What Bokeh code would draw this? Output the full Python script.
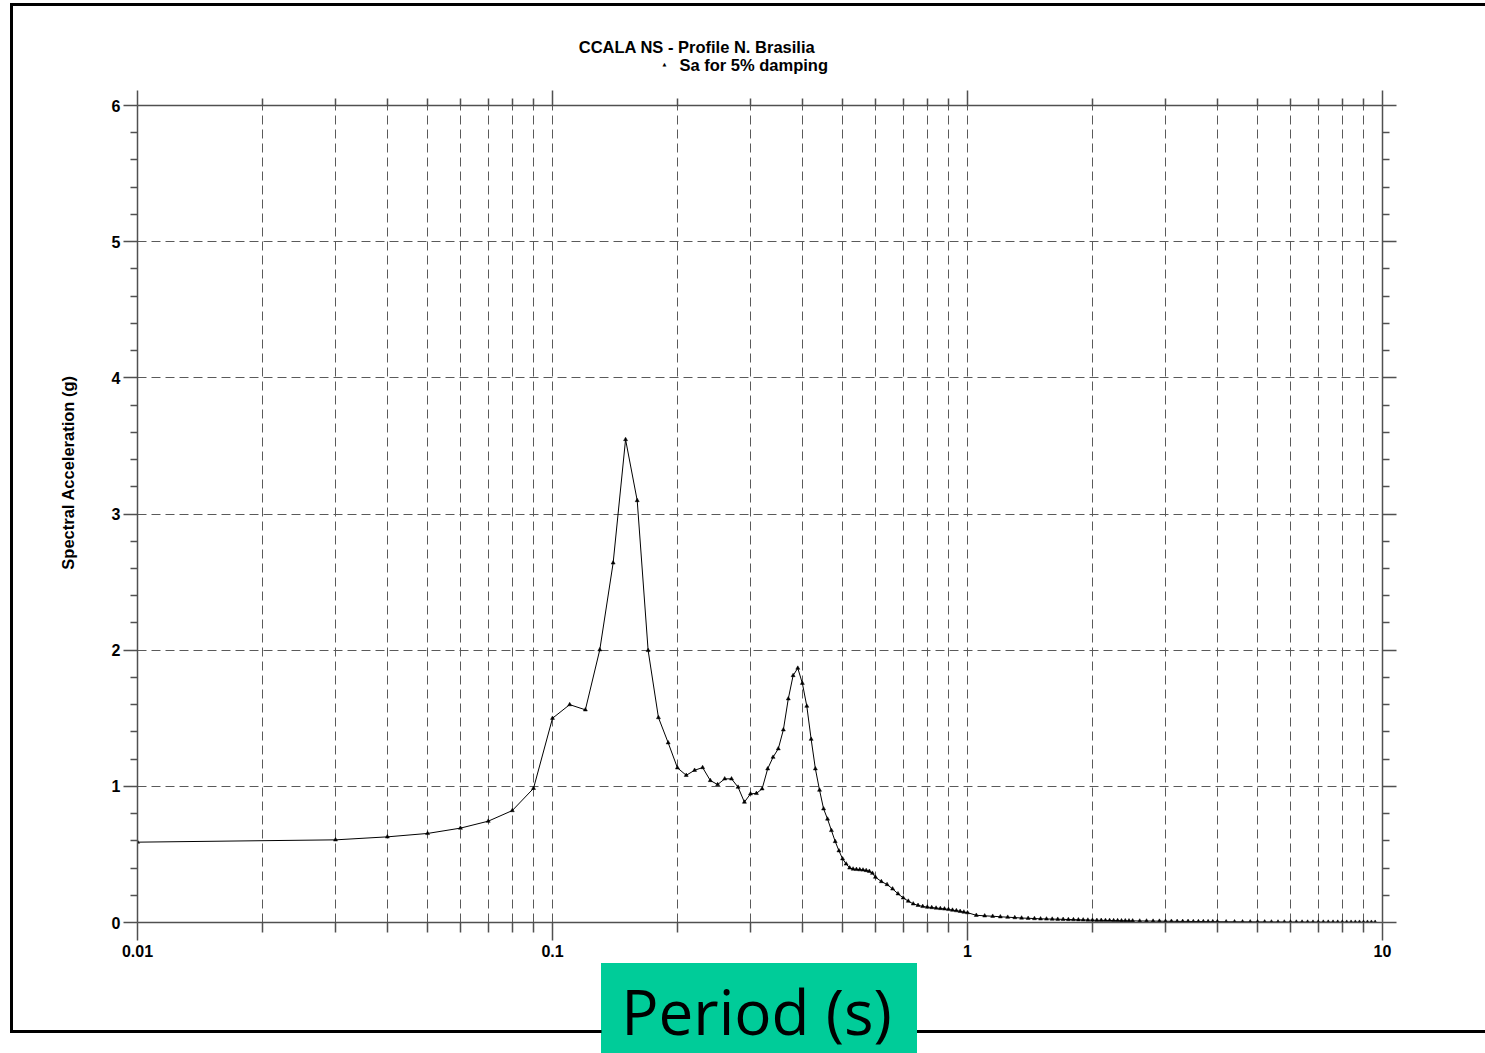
import math

from bokeh.plotting import figure
from bokeh.models import (Range1d, FixedTicker, LogAxis, LinearAxis, Label,
                          ColumnDataSource, BasicTickFormatter,
                          CustomJSTickFormatter, InlineStyleSheet)
from bokeh.embed import file_html
from bokeh.resources import INLINE

# ---- text ----
title_text = "CCALA NS - Profile N. Brasilia"
series_name = "Sa for 5% damping"
series_marker = "\u25b2"
x_title = "Period (s)"
y_title = "Spectral Acceleration (g)"

# ---- response spectrum (period in s, spectral acceleration in g) ----
period_short = [0.01, 0.03, 0.04, 0.05, 0.06, 0.07, 0.08, 0.09]
sa_short = [0.590, 0.607, 0.629, 0.654, 0.693, 0.744, 0.822, 0.985]

period_mid = [0.10, 0.11, 0.12, 0.13, 0.14, 0.15, 0.16, 0.17, 0.18, 0.19,
              0.20, 0.21, 0.22, 0.23, 0.24, 0.25, 0.26, 0.27, 0.28, 0.29,
              0.30, 0.31, 0.32, 0.33, 0.34, 0.35, 0.36, 0.37, 0.38, 0.39,
              0.40, 0.41, 0.42, 0.43, 0.44, 0.45, 0.46, 0.47, 0.48, 0.49,
              0.50, 0.51, 0.52, 0.53, 0.54, 0.55, 0.56, 0.57, 0.58, 0.59]
sa_mid = [1.500, 1.600, 1.562, 2.003, 2.641, 3.547, 3.099, 1.998, 1.505, 1.320,
          1.136, 1.081, 1.118, 1.138, 1.043, 1.013, 1.055, 1.055, 0.994, 0.884,
          0.945, 0.948, 0.982, 1.129, 1.214, 1.276, 1.415, 1.643, 1.814, 1.868,
          1.757, 1.589, 1.346, 1.129, 0.972, 0.835, 0.760, 0.676, 0.595, 0.527,
          0.468, 0.430, 0.401, 0.393, 0.390, 0.388, 0.386, 0.382, 0.376, 0.362]

period_long = [0.60, 0.62, 0.64, 0.66, 0.68, 0.70, 0.72, 0.74, 0.76, 0.78,
               0.80, 0.82, 0.84, 0.86, 0.88, 0.90, 0.92, 0.94, 0.96, 0.98, 1.00]
sa_long = [0.333, 0.301, 0.279, 0.247, 0.211, 0.181, 0.157, 0.137, 0.126, 0.118,
           0.113, 0.110, 0.106, 0.103, 0.100, 0.096, 0.091, 0.087, 0.082, 0.077, 0.072]

period_tail = [1.05, 1.10, 1.15, 1.20, 1.25, 1.30, 1.35, 1.40, 1.45, 1.50,
               1.55, 1.60, 1.65, 1.70, 1.75, 1.80, 1.85, 1.90, 1.95, 2.00,
               2.05, 2.10, 2.15, 2.20, 2.25, 2.30, 2.35, 2.40, 2.45, 2.50,
               2.6, 2.7, 2.8, 2.9, 3.0, 3.1, 3.2, 3.3, 3.4, 3.5,
               3.6, 3.7, 3.8, 3.9, 4.0,
               4.2, 4.4, 4.6, 4.8, 5.0, 5.2, 5.4, 5.6, 5.8, 6.0,
               6.2, 6.4, 6.6, 6.8, 7.0, 7.2, 7.4, 7.6, 7.8, 8.0,
               8.2, 8.4, 8.6, 8.8, 9.0, 9.2, 9.4, 9.6]
sa_tail = [0.053, 0.049, 0.046, 0.042, 0.039, 0.036, 0.033, 0.031, 0.029, 0.027,
           0.026, 0.025, 0.024, 0.023, 0.022, 0.021, 0.020, 0.019, 0.018, 0.017,
           0.016, 0.016, 0.015, 0.015, 0.014, 0.014, 0.013, 0.013, 0.012, 0.012,
           0.011, 0.011, 0.010, 0.010, 0.009, 0.009, 0.008, 0.008, 0.008, 0.007,
           0.007, 0.007, 0.006, 0.006, 0.006,
           0.0055, 0.0052, 0.0050, 0.0047, 0.0045, 0.0043, 0.0041, 0.0039, 0.0037, 0.0035,
           0.0034, 0.0033, 0.0031, 0.0030, 0.0029, 0.0028, 0.0027, 0.0026, 0.0025, 0.0024,
           0.0023, 0.0022, 0.0022, 0.0021, 0.0020, 0.0019, 0.0019, 0.0018]

# ---- axis ticks ----
x_major = [0.01, 0.1, 1, 10]
x_minor = [m * d for d in (0.01, 0.1, 1) for m in range(2, 10)]
y_major = [0, 1, 2, 3, 4, 5, 6]
y_minor = [i / 5 for i in range(31) if i % 5]

periods = period_short + period_mid + period_long + period_tail
sa = sa_short + sa_mid + sa_long + sa_tail
src = ColumnDataSource(dict(period=periods, sa=sa))

FONT = "Liberation Sans"
AXIS_COLOR = "#505050"
GRID_COLOR = "#5a5a5a"

# teal caption plate behind "Period (s)" and the page frame (open on the right,
# bottom edge interrupted by the plate)
page_css = InlineStyleSheet(css="""
:host::before {
  content: ""; position: absolute; left: 601px; top: 963px;
  width: 316px; height: 90px; background: #00CC99; pointer-events: none;
}
:host::after {
  content: ""; position: absolute; left: 9.5px; top: 3px;
  width: 1475.5px; height: 1029.5px; box-sizing: border-box;
  border-left: 3px solid #000; border-top: 3px solid #000;
  background:
    linear-gradient(#000, #000) 0 100% / 588.5px 3px no-repeat,
    linear-gradient(#000, #000) 100% 100% / 568px 3px no-repeat;
  pointer-events: none;
}
""")

p = figure(width=1485, height=1053, x_axis_type="log",
           x_range=Range1d(0.01, 10), y_range=Range1d(0, 6),
           output_backend="svg", toolbar_location=None,
           min_border_left=137, min_border_right=103,
           min_border_top=105, min_border_bottom=131,
           background_fill_color="white", border_fill_color=None,
           outline_line_color=None)
p.stylesheets = [page_css]

xt = FixedTicker(ticks=x_major, minor_ticks=x_minor)
yt = FixedTicker(ticks=y_major, minor_ticks=y_minor)
blank = CustomJSTickFormatter(code="return ''")


def style_axis(ax, major_out, minor_out):
    ax.axis_line_color = AXIS_COLOR
    ax.axis_line_width = 1.5
    ax.major_tick_line_color = AXIS_COLOR
    ax.minor_tick_line_color = AXIS_COLOR
    ax.major_tick_line_width = 1.5
    ax.minor_tick_line_width = 1.5
    ax.major_tick_in = 0
    ax.minor_tick_in = 0
    ax.major_tick_out = major_out
    ax.minor_tick_out = minor_out
    ax.major_label_text_font = FONT
    ax.major_label_text_font_size = "16px"
    ax.major_label_text_font_style = "bold"
    ax.major_label_text_color = "black"


bottom = p.below[0]
bottom.ticker = xt
bottom.formatter = BasicTickFormatter(use_scientific=False)
style_axis(bottom, 18, 10)
bottom.major_label_standoff = 4

left = p.left[0]
left.ticker = yt
style_axis(left, 14, 7)
left.major_label_standoff = 3

top = LogAxis(ticker=xt, formatter=blank)
style_axis(top, 15, 7)
p.add_layout(top, "above")

right = LinearAxis(ticker=yt, formatter=blank)
style_axis(right, 14, 7)
p.add_layout(right, "right")

# dashed grid on every decade subdivision and on each whole g
p.xgrid.ticker = xt
p.xgrid.grid_line_color = GRID_COLOR
p.xgrid.grid_line_dash = "9 5"
p.xgrid.minor_grid_line_color = GRID_COLOR
p.xgrid.minor_grid_line_dash = "9 5"
p.ygrid.ticker = yt
p.ygrid.grid_line_color = GRID_COLOR
p.ygrid.grid_line_dash = "9 5"

p.line("period", "sa", source=src, line_color="black", line_width=1)
p.scatter("period", "sa", source=src, marker="triangle", size=4,
          fill_color="black", line_color="black", line_width=0.5)


def page_label(text, x, y, panel, **kw):
    """A text placed in page pixels, kept in a margin panel so it is not clipped."""
    opts = dict(text_font=FONT, text_font_size="16.5px", text_font_style="bold",
                text_color="black", text_baseline="middle")
    opts.update(kw)
    p.add_layout(Label(x=x, y=y, x_units="canvas", y_units="canvas", text=text, **opts), panel)


page_label(title_text, 696.5, 46, "above", text_align="center")
page_label(series_name, 679, 64, "above", text_align="left")
page_label(series_marker, 664, 63, "right", text_align="center",
           text_font="DejaVu Sans", text_font_size="5px", text_font_style="normal")
page_label(y_title, 67, 472, "left", text_align="center", angle=math.pi / 2)
page_label(x_title, 756, 1010, "below", text_align="center", text_baseline="alphabetic",
           text_font="Open Sans", text_font_size="62px", text_font_style="normal")

open("out.html", "w").write(file_html(p, INLINE))
